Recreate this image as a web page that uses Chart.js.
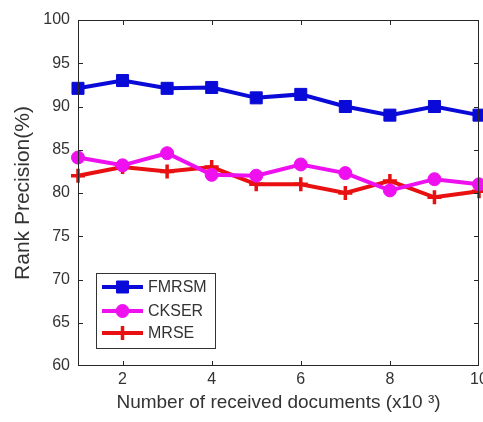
<!DOCTYPE html>
<html>
<head>
<meta charset="utf-8">
<script src="https://cdn.jsdelivr.net/npm/chart.js@4.4.0/dist/chart.umd.min.js"></script>
<style>
  html, body { margin: 0; padding: 0; background: #fff; overflow: hidden; }
  #wrap { position: relative; width: 500px; height: 422px; }
</style>
</head>
<body>
<div id="wrap"><canvas id="c"></canvas></div>
<script>
// ---- data ----
const docs = [1, 2, 3, 4, 5, 6, 7, 8, 9, 10];
const fmrsm = [92.1, 93.0, 92.1, 92.2, 91.0, 91.4, 90.0, 89.0, 90.0, 89.0];
const ckser = [84.1, 83.2, 84.6, 82.1, 82.0, 83.3, 82.3, 80.3, 81.6, 81.0];
const mrse  = [82.0, 83.0, 82.5, 83.0, 81.0, 81.0, 80.0, 81.4, 79.5, 80.2];
const xTickVals = [2, 4, 6, 8, 10];
const yTickVals = [60, 65, 70, 75, 80, 85, 90, 95, 100];
const seriesNames = ['FMRSM', 'CKSER', 'MRSE'];

const TXT = '#333333';
const FONT = '"Liberation Sans", Arial, sans-serif';

function toPts(vals) { return docs.map((d, i) => ({ x: d, y: vals[i] })); }

const frame = {
  id: 'frame',
  afterDraw(chart) {
    const { ctx, chartArea: a, scales } = chart;
    ctx.save();
    ctx.strokeStyle = '#262626';
    ctx.lineWidth = 1;
    ctx.strokeRect(a.left + 0.5, a.top + 0.5, a.right - a.left - 1, a.bottom - a.top - 1);
    const tl = 5;
    ctx.beginPath();
    xTickVals.forEach(v => {
      const px = Math.round(scales.x.getPixelForValue(v)) + 0.5;
      if (px > a.right - 2) return;
      ctx.moveTo(px, a.bottom); ctx.lineTo(px, a.bottom - tl);
      ctx.moveTo(px, a.top); ctx.lineTo(px, a.top + tl);
    });
    yTickVals.forEach(v => {
      const py = Math.round(scales.y.getPixelForValue(v)) + 0.5;
      if (py < a.top + 2 || py > a.bottom - 2) return;
      ctx.moveTo(a.left, py); ctx.lineTo(a.left + tl, py);
      ctx.moveTo(a.right, py); ctx.lineTo(a.right - tl, py);
    });
    ctx.stroke();
    ctx.restore();
  }
};

const legendBox = {
  id: 'legendBox',
  afterDraw(chart) {
    const ctx = chart.ctx;
    const ds = chart.data.datasets;
    const bx = 96, by = 273, bw = 119, bh = 75;
    ctx.save();
    ctx.fillStyle = '#ffffff';
    ctx.fillRect(bx, by, bw, bh);
    ctx.strokeStyle = '#333333';
    ctx.lineWidth = 1;
    ctx.strokeRect(bx + 0.5, by + 0.5, bw, bh);
    const rows = [287, 311, 333];
    ds.forEach((d, i) => {
      const y = rows[i];
      ctx.strokeStyle = d.borderColor;
      ctx.lineWidth = d.borderWidth;
      ctx.beginPath();
      ctx.moveTo(102, y); ctx.lineTo(143, y);
      ctx.stroke();
      ctx.fillStyle = d.pointBackgroundColor;
      ctx.strokeStyle = d.pointBorderColor;
      ctx.lineWidth = d.pointBorderWidth;
      Chart.helpers.drawPoint(ctx, { pointStyle: d.pointStyle, radius: d.pointRadius,
                      borderWidth: d.pointBorderWidth, rotation: 0 }, 122.5, y);
      ctx.fillStyle = TXT;
      ctx.font = '16px ' + FONT;
      ctx.textBaseline = 'middle';
      ctx.textAlign = 'left';
      ctx.fillText(d.label, 148, y + 1);
    });
    ctx.restore();
  }
};

function mkDs(label, vals, color, style, r, bw) {
  return {
    label, data: toPts(vals),
    borderColor: color, backgroundColor: color,
    pointBackgroundColor: color, pointBorderColor: color,
    borderWidth: 4, pointStyle: style, pointRadius: r,
    pointBorderWidth: bw, tension: 0, clip: false
  };
}

new Chart(document.getElementById('c'), {
  type: 'line',
  data: {
    datasets: [
      mkDs(seriesNames[0], fmrsm, '#0a0ad8', 'rect', 8.5, 1),
      mkDs(seriesNames[1], ckser, '#ee10ee', 'circle', 6.5, 1),
      mkDs(seriesNames[2], mrse, '#e81010', 'cross', 7, 3.5)
    ]
  },
  options: {
    responsive: true,
    maintainAspectRatio: false,
    animation: false,
    layout: { padding: { top: 20, right: 21, bottom: 0, left: 0 } },
    plugins: { legend: { display: false }, tooltip: { enabled: false } },
    scales: {
      x: {
        type: 'linear', min: 1, max: 10,
        afterBuildTicks: s => { s.ticks = xTickVals.map(v => ({ value: v })); },
        afterFit: s => { s.height = 56; },
        grid: { display: false, drawTicks: false },
        border: { display: false },
        ticks: { color: TXT, font: { family: FONT, size: 16 }, padding: 4, maxRotation: 0 },
        title: { display: true, text: 'Number of received documents (x10 ³)', color: TXT,
                 font: { family: FONT, size: 19 }, padding: { top: 0, bottom: 8 } }
      },
      y: {
        min: 60, max: 100,
        afterBuildTicks: s => { s.ticks = yTickVals.map(v => ({ value: v })); },
        afterFit: s => { s.width = 78; },
        grid: { display: false, drawTicks: false },
        border: { display: false },
        ticks: { color: TXT, font: { family: FONT, size: 16 }, padding: 8 },
        title: { display: true, text: 'Rank Precision(%)', color: TXT,
                 font: { family: FONT, size: 21 }, padding: { top: 11, bottom: 0 } }
      }
    }
  },
  plugins: [frame, legendBox]
});
</script>
</body>
</html>
